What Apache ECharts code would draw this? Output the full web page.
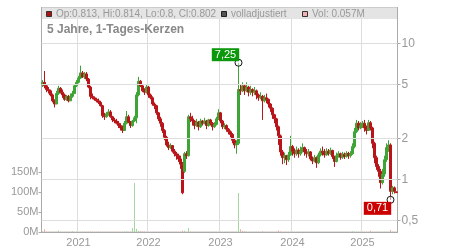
<!DOCTYPE html>
<html><head><meta charset="utf-8">
<script src="https://cdn.jsdelivr.net/npm/echarts@6/dist/echarts.min.js"></script>
<style>html,body{margin:0;padding:0;background:#fff}#c{width:450px;height:250px}</style>
</head><body><div id="c"></div>
<script>
// [open, close, low, high]
const ohlc = [
[5.0,5.2,4.8,5.4],[5.2,4.9,4.7,6.3],[4.9,4.6,4.4,5.0],[4.6,4.5,4.3,4.8],[4.5,4.2,4.1,4.6],
[4.2,3.8,3.7,4.3],[3.8,3.6,3.4,3.9],[3.6,4.3,3.6,4.5],[4.3,4.7,4.2,4.9],[4.7,4.4,4.3,4.8],
[4.4,4.2,4.0,4.6],[4.2,3.9,3.8,4.3],[3.9,4.1,3.8,4.2],[4.1,3.8,3.7,4.2],[3.8,4.1,3.8,4.3],
[4.1,4.3,4.0,4.5],[4.3,4.9,4.3,5.0],[4.9,5.2,4.8,5.4],[5.2,5.6,5.1,5.8],[5.6,6.1,5.5,6.9],
[6.1,5.7,5.6,6.3],[5.7,6.0,5.5,6.2],[6.0,5.5,5.3,6.2],[5.5,4.8,4.7,5.6],[4.8,4.1,3.9,4.9],
[4.1,4.0,3.9,4.3],[4.0,3.9,3.8,4.1],[3.9,3.8,3.7,4.0],[3.8,3.7,3.6,3.95],[3.7,3.5,3.45,3.8],
[3.5,2.95,2.85,3.55],[2.95,2.9,2.75,3.1],[2.9,3.05,2.85,3.15],[3.05,3.15,2.95,3.3],[3.15,2.9,2.85,3.25],
[2.9,2.75,2.65,2.95],[2.75,2.7,2.6,2.85],[2.7,2.6,2.55,2.8],[2.6,2.5,2.4,2.7],[2.5,2.4,2.3,2.6],
[2.4,2.3,2.2,2.5],[2.3,2.6,2.3,2.7],[2.6,2.9,2.55,3.2],[2.9,2.65,2.6,3.0],[2.65,2.5,2.4,2.7],
[2.5,2.7,2.45,2.75],[2.7,2.85,2.65,2.95],[2.85,4.2,2.6,4.4],[4.2,5.3,4.1,5.7],[5.3,4.9,4.8,5.4],
[4.9,4.5,4.4,5.0],[4.5,4.4,4.2,4.7],[4.4,4.8,4.3,5.0],[4.8,4.2,4.0,4.9],[4.2,4.0,3.9,4.3],
[4.0,3.6,3.5,4.1],[3.6,3.5,3.3,3.7],[3.5,3.1,3.0,3.55],[3.1,2.8,2.7,3.15],[2.8,2.6,2.45,2.9],
[2.6,2.3,2.2,2.65],[2.3,2.05,1.95,2.35],[2.05,1.8,1.75,2.1],[1.8,1.72,1.65,1.9],[1.72,1.78,1.68,1.85],
[1.78,1.62,1.58,1.8],[1.62,1.55,1.48,1.68],[1.55,1.5,1.4,1.6],[1.5,1.42,1.35,1.55],[1.42,1.3,1.2,1.5],
[1.3,0.8,0.78,1.35],[1.15,1.55,1.12,1.6],[1.55,1.5,1.42,1.62],[1.5,2.9,1.48,3.0],[2.9,2.8,2.65,3.1],
[2.8,2.7,2.5,2.95],[2.7,2.5,2.35,2.75],[2.5,2.65,2.45,2.8],[2.65,2.45,2.3,2.7],[2.45,2.7,2.4,2.8],
[2.7,2.6,2.5,2.75],[2.6,2.7,2.55,2.85],[2.7,2.5,2.35,2.75],[2.5,2.75,2.45,2.8],[2.75,2.6,2.5,2.8],
[2.6,2.45,2.3,2.65],[2.45,2.55,2.4,2.65],[2.55,2.8,2.5,2.9],[2.8,3.1,2.75,3.3],[3.1,2.7,2.6,3.15],
[2.7,2.45,2.35,2.75],[2.45,2.5,2.35,2.6],[2.5,2.35,2.25,2.55],[2.35,2.25,2.15,2.4],[2.25,2.15,2.05,2.3],
[2.15,1.95,1.85,2.2],[1.95,1.8,1.7,2.0],[1.8,1.85,1.55,1.95],[1.85,4.6,1.8,7.25],[4.6,4.5,4.2,5.0],
[4.5,4.9,4.4,5.2],[4.9,4.5,4.2,5.0],[4.5,4.8,4.4,5.2],[4.8,4.4,4.1,4.9],[4.4,4.6,4.2,4.9],
[4.6,4.4,4.1,4.7],[4.4,4.5,4.2,4.8],[4.5,4.2,3.9,4.6],[4.2,4.0,3.8,4.3],[4.0,4.1,3.9,4.4],
[4.1,3.8,2.75,4.2],[3.8,4.0,3.7,4.2],[4.0,3.9,3.65,4.3],[3.9,3.6,3.4,3.95],[3.6,3.35,3.15,3.65],
[3.35,3.0,2.8,3.4],[3.0,2.8,2.6,3.05],[2.8,2.45,2.3,2.85],[2.45,2.1,1.8,2.5],[2.1,1.6,1.5,2.15],
[1.6,1.45,1.3,1.65],[1.45,1.5,1.32,1.58],[1.5,1.4,1.28,1.52],[1.4,1.52,1.35,1.6],[1.52,1.75,1.5,2.1],
[1.75,1.62,1.5,1.8],[1.62,1.55,1.45,1.7],[1.55,1.65,1.5,1.75],[1.65,1.55,1.45,1.7],[1.55,1.62,1.5,1.75],
[1.62,1.72,1.58,1.85],[1.72,1.6,1.5,1.75],[1.6,1.55,1.45,1.68],[1.55,1.6,1.48,1.68],[1.6,1.42,1.38,1.62],
[1.42,1.37,1.3,1.48],[1.37,1.45,1.34,1.52],[1.45,1.33,1.22,1.48],[1.33,1.52,1.3,1.58],[1.52,1.62,1.48,1.7],
[1.62,1.58,1.5,1.75],[1.58,1.52,1.45,1.68],[1.52,1.62,1.5,1.7],[1.62,1.56,1.5,1.68],[1.56,1.64,1.52,1.72],
[1.64,1.48,1.42,1.66],[1.48,1.36,1.24,1.5],[1.36,1.5,1.34,1.58],[1.5,1.55,1.45,1.62],[1.55,1.46,1.4,1.58],
[1.46,1.54,1.42,1.6],[1.54,1.48,1.42,1.58],[1.48,1.56,1.45,1.62],[1.56,1.5,1.42,1.6],[1.5,1.55,1.45,1.62],
[1.55,1.75,1.52,1.85],[1.75,2.25,1.7,2.4],[2.25,2.6,2.2,2.75],[2.6,2.4,2.3,2.7],[2.4,2.5,2.35,2.65],
[2.5,2.6,2.4,2.7],[2.6,2.4,2.25,2.75],[2.4,2.3,2.15,2.5],[2.3,2.62,2.28,2.75],[2.62,2.4,2.3,2.7],
[2.4,1.85,1.7,2.45],[1.85,1.45,1.32,1.9],[1.45,1.25,1.18,1.5],[1.25,1.15,1.05,1.3],[1.15,0.95,0.86,1.2],
[0.95,1.1,0.92,1.2],[1.1,1.4,1.05,1.5],[1.4,1.72,1.35,1.85],[1.72,1.8,1.6,1.95],[1.8,0.82,0.71,1.85],
[0.82,0.87,0.78,0.9],[0.87,0.82,0.79,0.89],[0.813,0.802,0.8,0.814]
];
// volume in millions
const volumeM = [
1.0,7,0.8,0.6,0.6,0.8,0.6,0.6,4,0.6,
0.6,0.6,0.6,0.6,0.6,2,0.6,0.6,0.6,0.8,
0.6,0.6,1.5,0.6,1.5,0.6,0.6,0.6,0.6,0.6,
1.5,0.6,0.6,0.6,0.6,0.6,0.6,0.6,0.6,0.6,
0.6,0.6,2,0.6,0.6,10,123,8,3,2,
2,1,0.6,0.6,0.6,0.6,0.6,0.6,0.6,0.6,
0.6,0.6,1.5,0.6,0.6,0.6,0.6,0.6,0.6,0.6,
3,3,0.6,10,1,0.6,0.6,0.6,0.6,0.6,
0.6,0.6,0.6,0.6,0.6,0.6,0.6,0.6,0.6,0.6,
0.6,0.6,0.6,0.6,0.6,0.6,0.6,1,98,7,
3,2,1,0.6,0.6,0.6,0.6,0.6,0.6,0.6,
2,0.6,0.6,0.6,0.6,0.6,0.6,0.6,4,1,
0.6,0.6,0.6,0.6,0.6,0.6,0.6,0.6,0.6,0.6,
0.6,0.6,0.6,0.6,0.6,0.6,0.6,0.6,0.6,0.6,
0.6,0.6,0.6,0.6,0.6,0.6,0.6,0.6,0.6,0.6,
0.6,0.6,0.6,0.6,0.6,2,1,0.6,0.6,0.6,
0.6,0.6,0.6,0.6,3,0.6,0.6,0.6,0.6,0.6,
0.6,0.6,0.6,0.6,5,1,0.6,0.057
];
const priceTicks = [0.5, 1, 2, 5, 10];
const volumeTicksM = [0, 50, 100, 150];
const titleText = '5 Jahre, 1-Tages-Kerzen';
const legendTexts = ['Op:0.813, Hi:0.814, Lo:0.8, Cl:0.802', 'volladjustiert', 'Vol: 0.057M'];

// candle dates (one candle per ~10 days, evenly over the 5-year span)
const START = Date.UTC(2020, 6, 7);
const STEP = 10.246 * 86400000;
const dates = ohlc.map((_, i) => new Date(START + i * STEP).toISOString().slice(0, 10));

const UP = '#3da535', DOWN = '#b81419';
const FAM = '"Liberation Sans", Arial, sans-serif';
const yearStart = (idx) => idx > 0 && idx < dates.length && dates[idx].slice(0, 4) !== dates[idx - 1].slice(0, 4);
const fmtDE = v => String(v).replace('.', ',');

const chart = echarts.init(document.getElementById('c'));
const labelFont = { color: '#999', fontSize: 11, fontFamily: FAM };
chart.setOption({
  animation: false,
  textStyle: { fontFamily: FAM },
  grid: { left: 41.5, right: 52.5, top: 7.5, bottom: 18, show: true, borderColor: '#ccc', borderWidth: 1 },
  xAxis: {
    type: 'category', data: dates, boundaryGap: true,
    axisLine: { lineStyle: { color: '#aaa' } },
    axisTick: { interval: (i) => yearStart(i), length: 4, lineStyle: { color: '#aaa' } },
    axisLabel: Object.assign({ interval: (i) => yearStart(i), formatter: v => v.slice(0, 4), margin: 5 }, labelFont),
    splitLine: { show: true, interval: (i) => yearStart(i), lineStyle: { color: '#ddd' } }
  },
  yAxis: [
    {
      type: 'log', logBase: 10, position: 'right', min: 0.4116, max: 18.48,
      axisLine: { show: true, lineStyle: { color: '#aaa' } },
      axisTick: { show: true, customValues: priceTicks, length: 3, lineStyle: { color: '#aaa' } },
      axisLabel: Object.assign({ customValues: priceTicks, formatter: fmtDE, margin: 4, fontSize: 12 }, { color: '#999', fontFamily: FAM }),
      splitLine: { show: false }
    },
    {
      type: 'value', position: 'left', min: 0, max: 562.5, interval: 50,
      axisLine: { show: true, lineStyle: { color: '#aaa' } },
      axisTick: { show: true, customValues: volumeTicksM, length: 3, lineStyle: { color: '#aaa' } },
      axisLabel: Object.assign({ customValues: volumeTicksM, formatter: v => v + 'M', margin: 3 }, labelFont),
      splitLine: { show: false }
    }
  ],
  series: [
    {
      type: 'line', yAxisIndex: 0, data: [], z: 1, silent: true,
      markLine: {
        silent: true, symbol: ['none', 'none'], animation: false, label: { show: false },
        lineStyle: { color: '#ddd', type: 'solid', width: 1 },
        data: priceTicks.map(v => ({ yAxis: v }))
      }
    },
    {
      type: 'bar', yAxisIndex: 1, data: volumeM, barWidth: 1, z: 2,
      itemStyle: { color: p => (ohlc[p.dataIndex][1] >= ohlc[p.dataIndex][0] ? '#a3d79f' : '#f2a8a8') }
    },
    {
      type: 'candlestick', yAxisIndex: 0, data: ohlc, barWidth: 1.8, z: 3,
      itemStyle: { color: UP, color0: DOWN, borderColor: UP, borderColor0: DOWN, borderWidth: 1 },
      markPoint: {
        symbol: 'circle', symbolSize: 7, animation: false,
        itemStyle: { color: 'rgba(255,255,255,0.5)', borderColor: '#111', borderWidth: 1 },
        label: { show: true, position: 'inside', color: '#fff', fontSize: 11, padding: [1, 3],
          formatter: p => p.value.toFixed(2).replace('.', ',') },
        data: [
          { type: 'max', valueDim: 'highest', label: { offset: [-13, -8], backgroundColor: '#0c980c' } },
          { type: 'min', valueDim: 'lowest', label: { offset: [-13, 8.5], backgroundColor: '#cc0000' } }
        ]
      }
    }
  ],
  graphic: [
    { type: 'rect', z: 10, shape: { x: 42, y: 8, width: 355, height: 11 }, style: { fill: '#e4e4e4' } },
    { type: 'rect', z: 11, shape: { x: 46.5, y: 11.5, width: 5, height: 5 }, style: { fill: '#b01010', stroke: '#333', lineWidth: 1 } },
    { type: 'text', z: 11, x: 56, y: 14, style: { text: legendTexts[0], fill: '#999', font: '10px ' + FAM, verticalAlign: 'middle' } },
    { type: 'rect', z: 11, shape: { x: 221.5, y: 11.5, width: 5, height: 5 }, style: { fill: '#555', stroke: '#222', lineWidth: 1 } },
    { type: 'text', z: 11, x: 231, y: 14, style: { text: legendTexts[1], fill: '#999', font: '10px ' + FAM, verticalAlign: 'middle' } },
    { type: 'rect', z: 11, shape: { x: 302.5, y: 11.5, width: 5, height: 5 }, style: { fill: '#f4b0b0', stroke: '#333', lineWidth: 1 } },
    { type: 'text', z: 11, x: 312, y: 14, style: { text: legendTexts[2], fill: '#999', font: '10px ' + FAM, verticalAlign: 'middle' } },
    { type: 'text', z: 11, x: 47, y: 30, style: { text: titleText, fill: '#888', font: 'bold 12px ' + FAM, verticalAlign: 'middle' } }
  ]
});
</script>
</body></html>
